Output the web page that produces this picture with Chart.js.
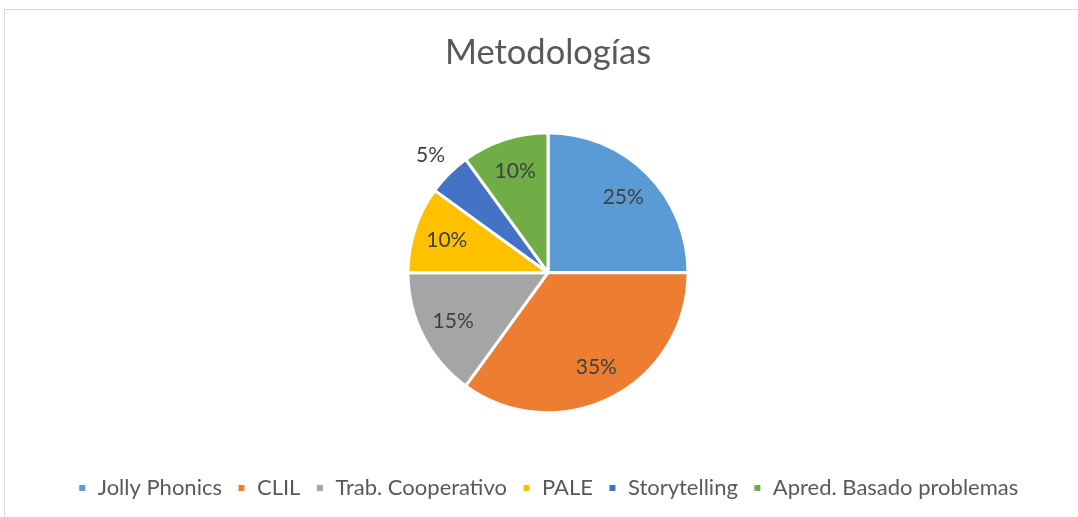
<!DOCTYPE html>
<html>
<head>
<meta charset="utf-8">
<script src="https://cdn.jsdelivr.net/npm/chart.js@4/dist/chart.umd.min.js"></script>
<style>
  body { margin: 0; background: #fff; }
  #wrap { width: 1078px; height: 517px; position: relative; }
</style>
</head>
<body>
<div id="wrap"><canvas id="cav" width="1078" height="517"></canvas></div>
<script>
// Data
var categories = ['Jolly Phonics', 'CLIL', 'Trab. Cooperativo', 'PALE', 'Storytelling', 'Apred. Basado problemas'];
var values = [25, 35, 15, 10, 5, 10];
var colours = ['#5B9BD5', '#ED7D31', '#A5A5A5', '#FFC000', '#4472C4', '#70AD47'];

var textColour = '#595959';
var labelColour = '#404040';
var fontName = "Lato, 'Open Sans', sans-serif";

// outline of the chart box
var frame = {
    id: 'frame',
    beforeDraw: function(chart) {
        var ctx = chart.ctx;
        ctx.save();
        ctx.strokeStyle = '#d9d9d9';
        ctx.lineWidth = 1;
        ctx.strokeRect(4.5, 9.5, 1200, 600);
        ctx.restore();
    }
};

// percentage labels on slices
var sliceLabels = {
    id: 'sliceLabels',
    afterDatasetsDraw: function(chart) {
        var ctx = chart.ctx;
        var meta = chart.getDatasetMeta(0);
        var data = chart.data.datasets[0].data;
        var total = data.reduce(function(a, b) { return a + b; }, 0);
        ctx.save();
        ctx.font = '21px ' + fontName;
        ctx.fillStyle = labelColour;
        ctx.textAlign = 'center';
        ctx.textBaseline = 'middle';
        meta.data.forEach(function(arc, i) {
            var p = arc.getProps(['x', 'y', 'startAngle', 'endAngle', 'outerRadius']);
            var mid = (p.startAngle + p.endAngle) / 2;
            var pct = data[i] / total * 100;
            var r = pct < 6 ? p.outerRadius + 26 : p.outerRadius * 0.76;
            ctx.fillText(Math.round(pct) + '%', p.x + Math.cos(mid) * r, p.y + Math.sin(mid) * r);
        });
        ctx.restore();
    }
};

var chart = new Chart(document.getElementById('cav'), {
    type: 'pie',
    data: {
        labels: categories,
        datasets: [{
            data: values,
            backgroundColor: colours,
            borderColor: '#ffffff',
            borderWidth: 3
        }]
    },
    options: {
        responsive: false,
        animation: false,
        radius: 140,
        layout: { padding: { left: 18, right: 0, top: 0, bottom: 8 } },
        plugins: {
            title: {
                display: true,
                text: 'Metodologías',
                color: textColour,
                font: { family: fontName, size: 34.5, weight: 'normal' },
                padding: { top: 32, bottom: 10 }
            },
            legend: {
                position: 'bottom',
                labels: {
                    color: textColour,
                    font: { family: fontName, size: 22 },
                    boxWidth: 9,
                    boxHeight: 9,
                    padding: 15
                }
            },
            tooltip: { enabled: false }
        }
    },
    plugins: [frame, sliceLabels]
});
</script>
</body>
</html>
